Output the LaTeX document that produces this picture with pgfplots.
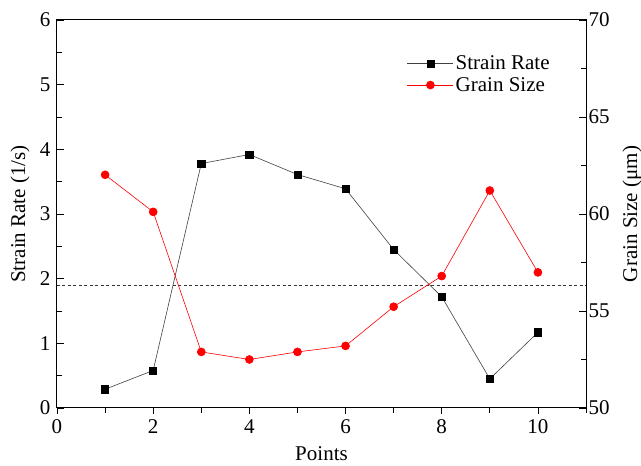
\documentclass[border=0pt]{standalone}
\usepackage{fontspec}
\setmainfont{Liberation Serif}
\usepackage{pgfplots}
\pgfplotsset{compat=1.18}
\begin{document}
\begin{tikzpicture}[font=\fontsize{21bp}{25bp}\selectfont]
\begin{axis}[
  name=main,
  scale only axis, width=529bp, height=388bp,
  xmin=0, xmax=11, ymin=0, ymax=6,
  xtick={0,2,...,10}, minor xtick={1,3,...,11},
  ytick={0,1,...,6}, minor ytick={0.5,1.5,...,5.5},
  xtick pos=bottom, ytick pos=left,
  tick align=inside,
  major tick length=7bp, minor tick length=5bp,
  major x tick style={yshift=-6bp},
  minor x tick style={yshift=-5bp},
  xticklabel style={yshift=-8bp},
  yticklabel style={xshift=-3bp},
  tick style={black, line width=0.8bp},
  axis line style={line width=1bp},
  /pgf/number format/assume math mode=true,
  xlabel={Points}, ylabel={Strain Rate (1/s)},
  xlabel style={at={(axis description cs:0.5,-0.118)}, anchor=center},
  ylabel style={at={(axis description cs:-0.07,0.5)}, anchor=center},
]
\addplot[color=black!75, line width=0.6bp, mark=square*, mark size=3.6bp, mark options={black, solid}]
  coordinates {(1,0.29) (2,0.58) (3,3.78) (4,3.92) (5,3.61) (6,3.39) (7,2.45) (8,1.72) (9,0.45) (10,1.17)};
\addplot[black!80, dashed, line width=0.6bp, dash pattern=on 3bp off 2.5bp]
  coordinates {(0,1.905) (11,1.905)};
\end{axis}
\begin{axis}[
  scale only axis, width=529bp, height=388bp,
  xmin=0, xmax=11, ymin=50, ymax=70,
  axis x line=none, axis y line*=right,
  ytick={50,55,...,70}, minor ytick={52.5,57.5,62.5,67.5},
  tick align=inside,
  major tick length=7bp, minor tick length=5bp,
  tick style={black, line width=0.8bp},
  axis line style={line width=1bp},
  yticklabel style={xshift=-1bp},
  /pgf/number format/assume math mode=true,
  ylabel={Grain Size (μm)},
  ylabel style={at={(axis description cs:1.087,0.5)}, anchor=center},
  legend style={draw=none, fill=none, at={(0.941,0.918)}, anchor=north east,
    row sep=2bp, font=\fontsize{21bp}{25bp}\selectfont},
  legend cell align=left,
  legend image code/.code={\draw[mark repeat=2,mark phase=2,#1] plot coordinates {(0bp,0bp) (23bp,0bp) (46bp,0bp)};},
]
\addlegendimage{color=black!75, line width=0.6bp, mark=square*, mark size=3.6bp, mark options={black, solid}}
\addlegendentry{Strain Rate}
\addplot[color=red, line width=0.6bp, mark=*, mark size=4bp, mark options={red, solid}]
  coordinates {(1,62.02) (2,60.11) (3,52.89) (4,52.50) (5,52.89) (6,53.20) (7,55.22) (8,56.80) (9,61.21) (10,56.99)};
\addlegendentry{Grain Size}
\end{axis}
\pgfresetboundingbox
\path ([xshift=-57bp,yshift=-58bp]main.south west) rectangle ([xshift=55bp,yshift=20bp]main.north east);
\end{tikzpicture}
\end{document}
